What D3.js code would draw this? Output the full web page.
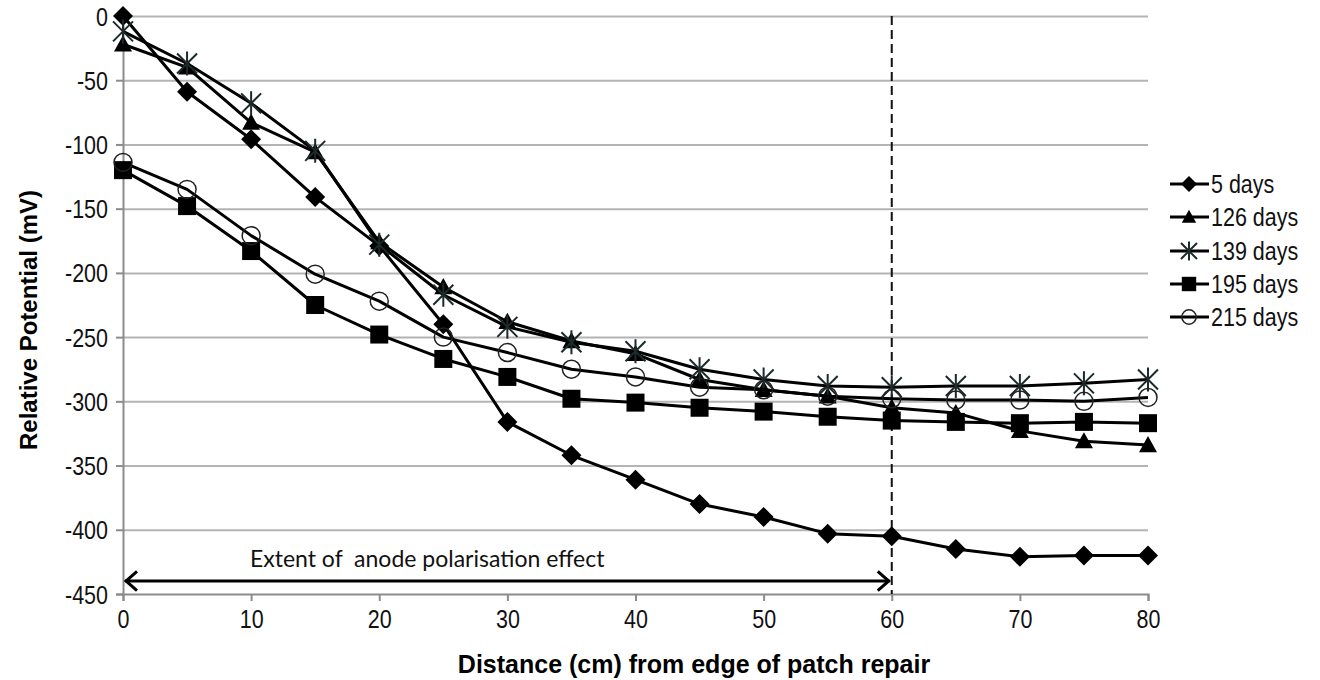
<!DOCTYPE html>
<html>
<head>
<meta charset="utf-8">
<script src="https://cdn.jsdelivr.net/npm/d3@7"></script>
<style>
  body { margin: 0; background: #fff; }
  svg { display: block; }
  .tick text { font-family: "Liberation Sans Narrow", "Liberation Sans", Arial, sans-serif; font-size: 25px; fill: #111; }
</style>
</head>
<body>
<svg id="chart" width="1320" height="680"></svg>
<script>
// distance from edge of patch repair (cm)
const distance = [0, 5, 10, 15, 20, 25, 30, 35, 40, 45, 50, 55, 60, 65, 70, 75, 80]

// relative potential (mV) per survey
const days5   = [0, -59, -96, -141, -179, -240, -316, -342, -361, -380, -390, -403, -405, -415, -421, -420, -420]
const days126 = [-22, -40, -83, -106, -176, -211, -238, -253, -263, -283, -291, -296, -305, -309, -323, -331, -334]
const days139 = [-12, -37, -68, -105, -178, -217, -242, -254, -261, -275, -283, -288, -289, -288, -288, -286, -283]
const days195 = [-120, -148, -183, -225, -248, -267, -281, -298, -301, -305, -308, -312, -315, -316, -317, -316, -317]
const days215 = [-114, -135, -171, -201, -222, -250, -262, -275, -281, -289, -291, -296, -298, -299, -299, -300, -297]

const seriesNames = ['5 days', '126 days', '139 days', '195 days', '215 days']
const seriesValues = [days5, days126, days139, days195, days215]
const seriesMarkers = ['diamond', 'triangle', 'star', 'square', 'circle']

const xTicks = [0, 10, 20, 30, 40, 50, 60, 70, 80]
const yTicks = [0, -50, -100, -150, -200, -250, -300, -350, -400, -450]

const polarisationExtent = 60

// labels are set in a condensed face, squeeze regular glyphs to match
const squeeze = 0.86

const svg = d3.select('#chart')

const x = d3.scaleLinear().domain([0, 80]).range([123, 1148])
const y = d3.scaleLinear().domain([-450, 0]).range([594, 16])

// marker shapes, r is half the marker width
const markerPath = (type, r) => {
    const p = d3.path()
    if (type === 'diamond') {
        p.moveTo(0, -r); p.lineTo(r, 0); p.lineTo(0, r); p.lineTo(-r, 0); p.closePath()
    } else if (type === 'square') {
        p.rect(-r, -r, 2 * r, 2 * r)
    } else if (type === 'triangle') {
        p.moveTo(0, -r); p.lineTo(r, r * 0.8); p.lineTo(-r, r * 0.8); p.closePath()
    } else if (type === 'circle') {
        p.arc(0, 0, r, 0, 2 * Math.PI)
    } else if (type === 'star') {
        p.moveTo(-r, -r); p.lineTo(r, r)
        p.moveTo(r, -r); p.lineTo(-r, r)
        p.moveTo(0, -r * 1.2); p.lineTo(0, r * 1.2)
    }
    return p.toString()
}

const markerSize = { diamond: 10, square: 9, triangle: 9, circle: 9, star: 10 }

const styleMarker = (sel, type) => {
    if (type === 'circle') {
        sel.attr('fill', 'none').attr('stroke', '#222').attr('stroke-width', 1.5)
    } else if (type === 'star') {
        sel.attr('fill', 'none').attr('stroke', '#1c2a2a').attr('stroke-width', 2)
    } else {
        sel.attr('fill', '#000').attr('stroke', 'none')
    }
}

// gridlines
svg.append('g')
    .attr('transform', `translate(${x(0)},0)`)
    .call(d3.axisLeft(y).tickValues(yTicks.slice(0, -1)).tickSize(-(x(80) - x(0))).tickFormat(''))
    .call(g => g.select('.domain').remove())
    .call(g => g.selectAll('line').attr('stroke', '#b4b4b4').attr('stroke-width', 2))

// y axis
svg.append('g')
    .attr('transform', `translate(${x(0)},0)`)
    .call(d3.axisLeft(y).tickValues(yTicks).tickSize(7).tickPadding(8).tickFormat(d => String(d)))
    .call(g => g.select('.domain').attr('stroke', '#8c8c8c').attr('stroke-width', 2))
    .call(g => g.selectAll('.tick line').attr('stroke', '#8c8c8c').attr('stroke-width', 2))
    .call(g => g.selectAll('.tick text')
        .attr('dy', '0.36em')
        .attr('x', -15 / squeeze)
        .attr('transform', `scale(${squeeze},1)`))

// x axis
svg.append('g')
    .attr('transform', `translate(0,${y(-450)})`)
    .call(d3.axisBottom(x).tickValues(xTicks).tickSize(7).tickPadding(9))
    .call(g => g.select('.domain').attr('stroke', '#8c8c8c').attr('stroke-width', 2))
    .call(g => g.selectAll('.tick line').attr('stroke', '#8c8c8c').attr('stroke-width', 2))
    .call(g => g.selectAll('.tick text').attr('transform', `scale(${squeeze},1)`))

// axis titles
svg.append('text')
    .attr('transform', `translate(29,${(y(0) + y(-450)) / 2 + 15}) rotate(-90)`)
    .attr('text-anchor', 'middle')
    .attr('font-family', '"Liberation Sans", Arial, sans-serif')
    .attr('font-weight', 'bold')
    .attr('font-size', 24)
    .attr('dy', '0.35em')
    .text('Relative Potential (mV)')

svg.append('text')
    .attr('x', 694)
    .attr('y', 673)
    .attr('text-anchor', 'middle')
    .attr('font-family', '"Liberation Sans", Arial, sans-serif')
    .attr('font-weight', 'bold')
    .attr('font-size', 25)
    .text('Distance (cm) from edge of patch repair')

// extent of anode polarisation
svg.append('line')
    .attr('x1', x(polarisationExtent)).attr('x2', x(polarisationExtent))
    .attr('y1', y(0)).attr('y2', y(-450))
    .attr('stroke', '#111').attr('stroke-width', 2)
    .attr('stroke-dasharray', '9,5')

const arrowY = y(-450) - 13
svg.append('line')
    .attr('x1', x(0) + 2).attr('x2', x(polarisationExtent) - 2)
    .attr('y1', arrowY).attr('y2', arrowY)
    .attr('stroke', '#000').attr('stroke-width', 3)

const head = 12
svg.append('path')
    .attr('d', `M${x(0) + 2 + head},${arrowY - head * 0.8}L${x(0) + 3},${arrowY}L${x(0) + 2 + head},${arrowY + head * 0.8}`
        + `M${x(polarisationExtent) - 2 - head},${arrowY - head * 0.8}L${x(polarisationExtent) - 3},${arrowY}L${x(polarisationExtent) - 2 - head},${arrowY + head * 0.8}`)
    .attr('fill', 'none').attr('stroke', '#000').attr('stroke-width', 3)

svg.append('text')
    .attr('x', 250)
    .attr('y', 567)
    .attr('font-family', 'Lato, "Open Sans", sans-serif')
    .attr('font-size', 23)
    .attr('fill', '#111')
    .attr('xml:space', 'preserve')
    .text('Extent of  anode polarisation effect')

// series lines and markers
const line = d3.line()
    .x((d, i) => x(distance[i]))
    .y(d => y(d))

seriesValues.forEach((vals, s) => {
    const type = seriesMarkers[s]
    const g = svg.append('g')
    g.append('path')
        .datum(vals)
        .attr('d', line)
        .attr('fill', 'none')
        .attr('stroke', '#000')
        .attr('stroke-width', 3)
        .attr('stroke-linejoin', 'round')

    g.selectAll('path.marker')
        .data(vals)
        .join('path')
        .attr('class', 'marker')
        .attr('transform', (d, i) => `translate(${x(distance[i])},${y(d)})`)
        .attr('d', markerPath(type, markerSize[type]))
        .call(styleMarker, type)
})

// legend
const legendY = [184, 217, 251, 284, 317]
const legend = svg.append('g')
seriesNames.forEach((name, s) => {
    const type = seriesMarkers[s]
    const item = legend.append('g').attr('transform', `translate(0,${legendY[s]})`)
    item.append('line')
        .attr('x1', 1170).attr('x2', 1209)
        .attr('stroke', '#000').attr('stroke-width', 3)
    item.append('path')
        .attr('transform', 'translate(1189,0)')
        .attr('d', markerPath(type, markerSize[type] * 0.8))
        .call(styleMarker, type)
    item.append('text')
        .attr('transform', `translate(1211,0) scale(${squeeze},1)`)
        .attr('dy', '0.36em')
        .attr('font-family', '"Liberation Sans Narrow", "Liberation Sans", Arial, sans-serif')
        .attr('font-size', 25)
        .attr('fill', '#111')
        .text(name)
})
</script>
</body>
</html>
